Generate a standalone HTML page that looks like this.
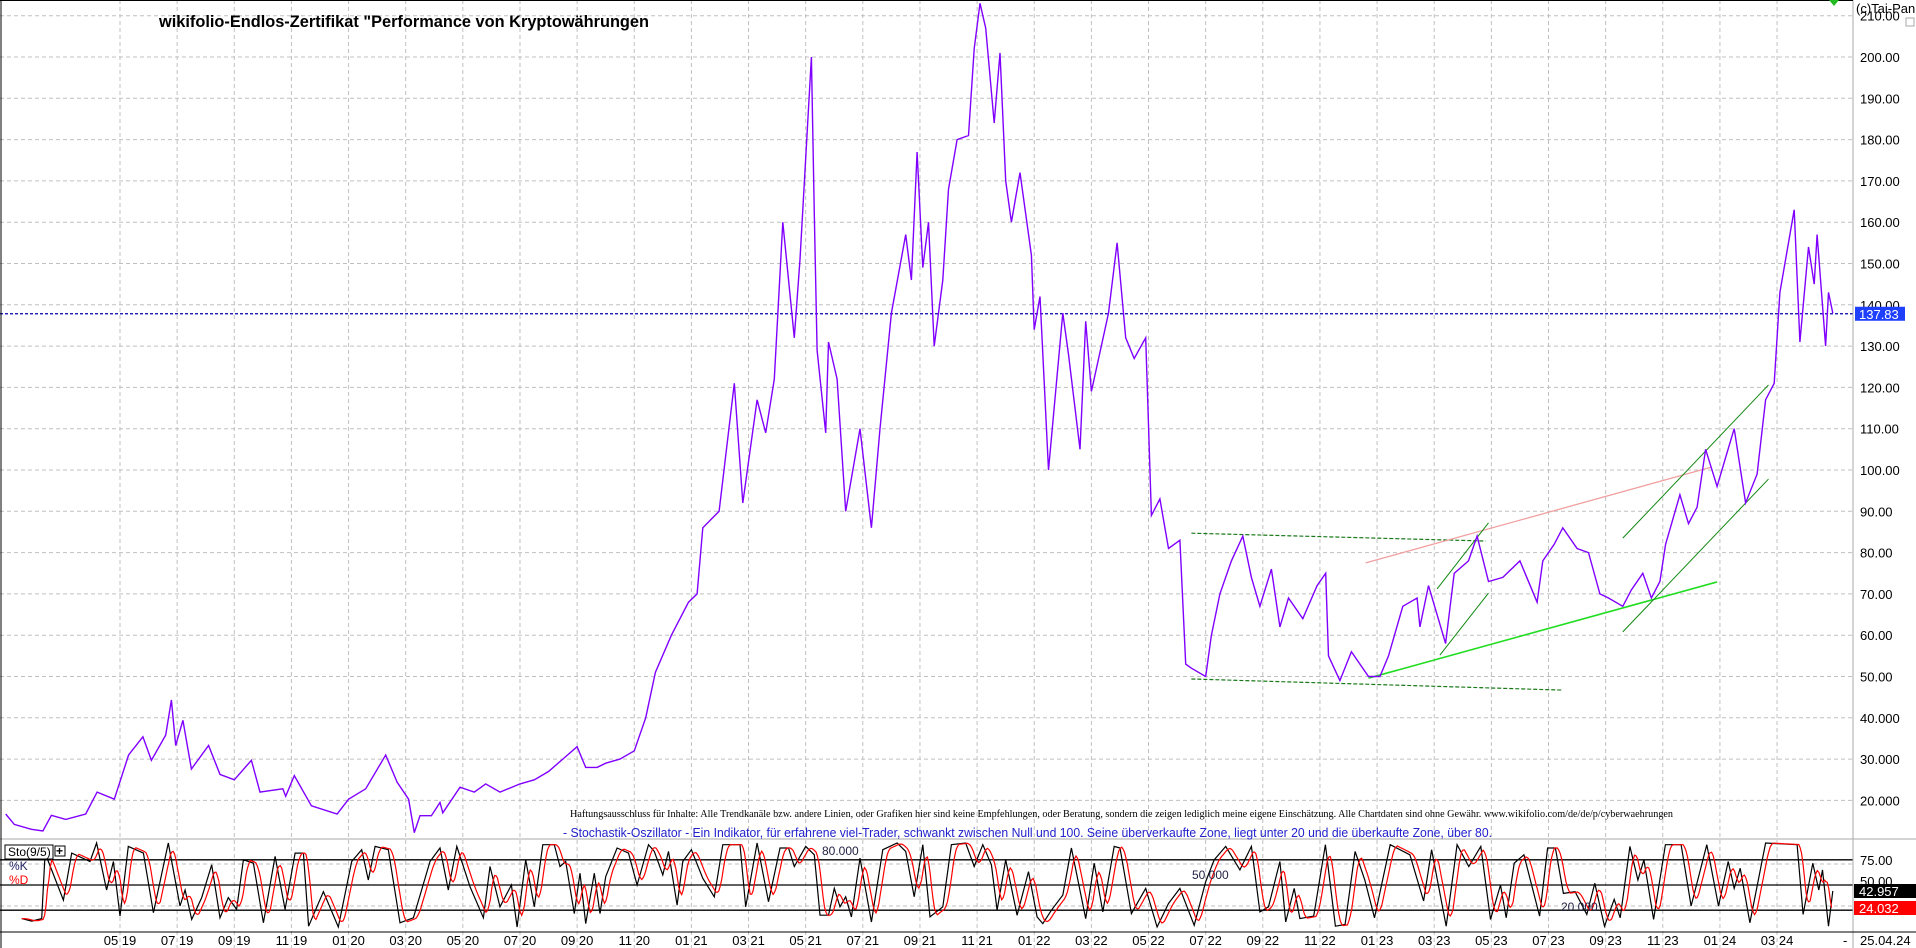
<!DOCTYPE html>
<html><head><meta charset="utf-8"><style>
html,body{margin:0;padding:0;background:#fff;}
svg{display:block;font-family:"Liberation Sans",sans-serif;}
</style></head>
<body>
<svg id="chart" width="1916" height="948" viewBox="0 0 1916 948" xmlns="http://www.w3.org/2000/svg">
  <rect x="0" y="0" width="1916" height="948" fill="#fff"/>
  <g id="grid"></g>
  <g id="trend"></g>
  <g id="series"></g>
  <g id="sto"></g>
  <g id="axes"></g>
  <text x="159" y="27" font-size="17" font-weight="bold" textLength="490" lengthAdjust="spacingAndGlyphs">wikifolio-Endlos-Zertifikat "Performance von Kryptowährungen</text>
  <text x="570" y="817" font-family="Liberation Serif, serif" font-size="11" textLength="1103" lengthAdjust="spacingAndGlyphs">Haftungsausschluss für Inhalte: Alle Trendkanäle bzw. andere Linien, oder Grafiken hier sind keine Empfehlungen, oder Beratung, sondern die zeigen lediglich meine eigene Einschätzung. Alle Chartdaten sind ohne Gewähr.  www.wikifolio.com/de/de/p/cyberwaehrungen</text>
  <text x="563" y="837" font-size="13" fill="#2222cc" textLength="929" lengthAdjust="spacingAndGlyphs">- Stochastik-Oszillator - Ein Indikator, für erfahrene viel-Trader, schwankt zwischen Null und 100. Seine überverkaufte Zone, liegt unter 20 und die überkaufte Zone, über 80.</text>
  <text x="1856" y="13" font-size="13">(c)Tai-Pan</text>
  <path d="M1829,0 L1839,0 L1834,6 Z" fill="#22bb22"/>
  <rect x="1906" y="18" width="8" height="8" fill="none" stroke="#aaa"/>
</svg>
<script>
// ---- price data (months since Jan 2019, value) ----
const priceMonths = [0,0.3,0.9,1.3,1.6,2.1,2.8,3.2,3.8,4.3,4.8,5.1,5.6,5.8,5.95,6.2,6.5,7.1,7.5,8.0,8.6,8.9,9.7,9.8,10.1,10.7,11.6,12.0,12.6,13.3,13.7,14.1,14.3,14.5,14.9,15.2,15.3,15.9,16.4,16.8,17.3,18,18.5,19,19.5,20,20.3,20.7,21,21.5,22,22.4,22.74,23.3,23.9,24.2,24.4,24.97,25.5,25.8,26.3,26.6,26.9,27.2,27.6,27.8,28.2,28.3,28.4,28.7,28.8,29.1,29.4,29.9,30.3,30.6,31.0,31.5,31.7,31.9,32.1,32.3,32.5,32.8,33.0,33.3,33.7,33.9,34.1,34.3,34.6,34.8,35.0,35.2,35.5,35.9,36.0,36.2,36.5,37.0,37.2,37.6,37.8,38.0,38.6,38.9,39.2,39.5,39.9,40.1,40.4,40.7,41.1,41.3,41.5,42.0,42.2,42.5,42.9,43.3,43.6,43.9,44.3,44.6,44.9,45.4,45.9,46.2,46.3,46.7,47.1,47.7,48.1,48.4,48.9,49.4,49.5,49.8,50.4,50.7,51.2,51.5,51.9,52.4,53.0,53.6,53.8,54.2,54.5,55.0,55.4,55.8,56.1,56.6,56.9,57.3,57.6,57.9,58.1,58.6,58.9,59.2,59.5,59.9,60.2,60.5,60.9,61.3,61.6,61.9,62.1,62.6,62.8,63.1,63.3,63.4,63.7,63.8,63.95];
const priceValues = [16.7,14.2,13,12.6,16.4,15.4,16.7,22,20.3,31,35.4,29.7,35.8,44.3,33.3,39.4,27.6,33.3,26.3,25,29.7,22,22.8,21,26,18.7,16.7,20.3,22.8,31,24.4,20.3,12.2,16.3,16.3,19.5,17,23.2,22,24,22,24,25,27,30,33,28,28,29,30,32,40,51,60,68,70,86,90,121,92,117,109,122,160,132,151,200,162,129,109,131,122,90,110,86,110,138,157,146,177,149,160,130,146,168,180,181,202,213,207,184,201,170,160,172,152,134,142,100,138,128,105,136,119,138,155,132,127,132,89,93,81,83,53,52,50,60,70,78,84,74,67,76,62,69,64,72,75,55,49,56,50,50,55,67,69,62,72,58,75,78,84,73,74,78,68,78,82,86,81,80,70,69,67,71,75,69,73,82,94,87,91,105,96,103,110,92,99,117,121,143,163,131,154,145,157,130,143,138];
const lastPrice = 137.83;
const priceTicks = [20,30,40,50,60,70,80,90,100,110,120,130,140,150,160,170,180,190,200,210];
const monthTicks = [4,6,8,10,12,14,16,18,20,22,24,26,28,30,32,34,36,38,40,42,44,46,48,50,52,54,56,58,60,62];
const monthLabels = ["05 19","07 19","09 19","11 19","01 20","03 20","05 20","07 20","09 20","11 20","01 21","03 21","05 21","07 21","09 21","11 21","01 22","03 22","05 22","07 22","09 22","11 22","01 23","03 23","05 23","07 23","09 23","11 23","01 24","03 24"];
// trend lines: [m1, v1, m2, v2]
const trendDashed = [[41.5,84.7,51.8,82.8],[41.5,49.4,54.5,46.7]];
const trendRed = [[47.6,77.5,59.7,100.7]];
const trendGreen = [[47.7,49.6,59.9,72.9]];
const trendChannel = [[50.1,71.2,51.9,87.2],[50.2,55.2,51.9,70.2],[56.6,83.5,61.7,120.6],[56.6,60.8,61.7,97.8]];
// stochastic %K (month, value)
const kMonths = [0.56,0.91,1.26,1.38,2.02,2.31,2.95,3.18,3.53,3.77,4.0,4.29,4.82,5.17,5.69,6.1,6.28,6.51,6.86,7.21,7.5,7.79,8.08,8.32,8.67,9.02,9.43,9.78,10.13,10.42,10.6,11.12,11.64,12.11,12.46,12.69,12.93,13.39,13.8,14.27,14.85,15.2,15.49,15.79,16.25,16.72,16.95,17.3,17.7,17.9,18.2,18.5,18.8,19.2,19.4,19.6,19.9,20.1,20.3,20.6,20.8,21.0,21.4,21.8,22.1,22.5,22.7,23.0,23.2,23.5,23.7,24.0,24.4,24.8,25.1,25.7,25.9,26.3,26.7,27.1,27.4,27.6,28.0,28.3,28.5,28.8,29.0,29.2,29.4,29.6,29.9,30.3,30.7,31.2,31.5,31.8,32.1,32.35,32.8,33.1,33.6,33.9,34.2,34.5,34.7,35.0,35.4,35.8,36.1,36.3,36.6,37.0,37.3,37.8,38.1,38.4,38.8,39.0,39.4,39.9,40.3,40.7,41.1,41.6,42.0,42.3,42.7,43.2,43.6,43.9,44.2,44.6,44.8,45.1,45.3,45.78,46.19,46.54,46.88,47.23,47.57,47.91,48.46,49.15,49.63,49.91,50.42,50.8,51.21,51.63,51.97,52.32,52.52,52.8,53.14,53.69,53.97,54.24,54.52,54.93,55.34,55.62,55.96,56.3,56.51,56.85,57.13,57.34,57.68,58.09,58.64,58.99,59.54,59.95,60.29,60.5,60.71,61.05,61.6,62.7,62.91,63.25,63.46,63.59,63.8,63.95];
const kValues = [10,7,10,88,32,88,78,100,44,78,13,96,88,17,100,25,44,9,35,74,11,35,21,80,76,5,84,21,88,88,1,42,0,78,92,56,96,92,5,11,78,94,44,96,48,11,72,24,50,0,80,24,98,98,72,78,16,64,4,64,16,60,94,88,50,98,90,62,90,26,78,92,58,36,98,98,24,100,30,94,94,72,96,86,14,14,46,24,36,12,82,6,92,100,90,36,98,12,24,98,100,72,98,74,20,80,14,66,12,4,20,38,94,10,76,18,96,94,16,46,0,28,46,2,54,80,96,68,96,18,24,78,6,46,10,13,98,1,3,90,56,11,98,86,31,92,1,98,72,96,9,50,11,76,86,13,94,94,40,42,15,52,1,33,11,96,56,80,9,98,98,25,98,25,78,46,70,5,100,98,15,76,44,68,1,42.957];
const lastK = 42.957, lastD = 24.032;
const stoLevels = [20,50,80];

const NS = "http://www.w3.org/2000/svg";
function X(m){ return 120 + (m - 4) * 28.57; }
function Y(v){ return 57 + (200 - v) * 4.13; }
function SY(v){ return 927 - v * 0.84; }
function mk(tag, attrs, parent){ const e=document.createElementNS(NS,tag); for(const k in attrs) e.setAttribute(k,attrs[k]); parent.appendChild(e); return e; }

const grid=document.getElementById('grid'), trend=document.getElementById('trend'), series=document.getElementById('series'), sto=document.getElementById('sto'), axes=document.getElementById('axes');

// horizontal grid + price labels
priceTicks.forEach(v=>{
  const l=mk('line',{x1:0,x2:1853,y1:Y(v),y2:Y(v),stroke:'#c0c0c0','stroke-dasharray':'4,3'},grid);
  
  
  const t=mk('text',{x:1860,y:Y(v)+5,'font-size':13},axes);
  t.textContent = v<50 ? v.toFixed(3) : v.toFixed(2);
  
  
});
// sto dashed grid
[25,75].forEach(v=>{
  const l=mk('line',{x1:0,x2:1853,y1:SY(v),y2:SY(v),stroke:'#c0c0c0','stroke-dasharray':'4,3'},grid);
  
  
});
// vertical grid + month labels
monthTicks.forEach((m,i)=>{
  const l=mk('line',{x1:X(m),x2:X(m),y1:0,y2:948,stroke:'#c0c0c0','stroke-dasharray':'4,3'},grid);
  
  
  const t=mk('text',{x:X(m),y:945,'font-size':13,'text-anchor':'middle'},axes);
  t.textContent=monthLabels[i];
  
  
});

// trend lines
function seg(arr,color,dash,w,name){
  arr.forEach(s=>{
    const a={x1:X(s[0]),y1:Y(s[1]),x2:X(s[2]),y2:Y(s[3]),stroke:color,'stroke-width':w};
    if(dash) a['stroke-dasharray']=dash;
    const l=mk('line',a,trend);
    
    
  });
}
seg(trendDashed,'#1a7a1a','4,2',1.2,'support-resistance-dashed');
seg(trendRed,'#f0a0a0',null,1.3,'red-trendline');
seg(trendGreen,'#22dd22',null,1.6,'green-trendline');
seg(trendChannel,'#118811',null,1,'trend-channel-line');

// last price dashed line
const lp=mk('line',{x1:0,x2:1853,y1:Y(lastPrice),y2:Y(lastPrice),stroke:'#0000aa','stroke-dasharray':'3,2','stroke-width':1.2},series);



// price line
const pp=mk('polyline',{points:priceMonths.map((m,i)=>X(m).toFixed(1)+','+Y(priceValues[i]).toFixed(1)).join(' '),fill:'none',stroke:'#8000ff','stroke-width':1.4,'stroke-linejoin':'miter'},series);



// last price label
const lb=mk('rect',{x:1855,y:Y(lastPrice)-7,width:50,height:14,fill:'#1f3fff'},axes);


const lt=mk('text',{x:1859,y:Y(lastPrice)+5,'font-size':13,fill:'#fff'},axes);
lt.textContent=lastPrice.toFixed(2);



// sto panel separators
const sep=mk('line',{x1:0,x2:1916,y1:839,y2:839,stroke:'#aaa'},sto);


stoLevels.forEach(v=>{
  const l=mk('line',{x1:0,x2:1853,y1:SY(v),y2:SY(v),stroke:'#000','stroke-width':1.3},sto);
  
  
});
// %D from K (3-sample lagged average)
function kAt(m){
  if(m<=kMonths[0]) return kValues[0];
  for(let i=1;i<kMonths.length;i++){ if(m<=kMonths[i]){ const t=(m-kMonths[i-1])/(kMonths[i]-kMonths[i-1]); return kValues[i-1]+t*(kValues[i]-kValues[i-1]); } }
  return kValues[kValues.length-1];
}
const dPts=[];
for(let m=kMonths[0]; m<=kMonths[kMonths.length-1]+0.001; m+=0.05){
  const d=(kAt(m-0.08)+kAt(m-0.16)+kAt(m-0.24))/3;
  dPts.push(X(m).toFixed(1)+','+SY(d).toFixed(1));
}
const kl=mk('polyline',{points:kMonths.map((m,i)=>X(m).toFixed(1)+','+SY(kValues[i]).toFixed(1)).join(' '),fill:'none',stroke:'#000','stroke-width':1.2},sto);


const dl=mk('polyline',{points:dPts.join(' '),fill:'none',stroke:'#ff0000','stroke-width':1.2},sto);



// level labels inside panel
[[822,855,'80.000'],[1192,879,'50.000'],[1561,911,'20.000']].forEach(a=>{
  const t=mk('text',{x:a[0],y:a[1],'font-size':12,fill:'#222244'},sto);
  t.textContent=a[2];
  
  
});
// sto legend
const sb=mk('rect',{x:5,y:845,width:48,height:14,fill:'#fff',stroke:'#000'},sto);


const st=mk('text',{x:8,y:856,'font-size':12},sto);
st.textContent='Sto(9/5)';


const pb=mk('rect',{x:55,y:846,width:10,height:10,fill:'#fff',stroke:'#000'},sto);


const pt=mk('text',{x:56,y:855,'font-size':12,'font-weight':'bold'},sto);
pt.textContent='+';


const kt=mk('text',{x:9,y:870,'font-size':12,fill:'#222266'},sto);
kt.textContent='%K';


const dt=mk('text',{x:9,y:884,'font-size':12,fill:'#ff0000'},sto);
dt.textContent='%D';



// sto right labels
[[75,'75.00'],[50,'50.00']].forEach(a=>{
  const t=mk('text',{x:1860,y:SY(a[0])+1,'font-size':13},axes);
  t.textContent=a[1];
  
  
});
const kb=mk('rect',{x:1854,y:884,width:62,height:14,fill:'#000'},axes);


const kv=mk('text',{x:1859,y:896,'font-size':13,fill:'#fff'},axes);
kv.textContent=lastK.toFixed(3);


const db=mk('rect',{x:1854,y:901,width:62,height:14,fill:'#ff0000'},axes);


const dv=mk('text',{x:1859,y:913,'font-size':13,fill:'#fff'},axes);
dv.textContent=lastD.toFixed(3);



// axis frame
const ax=mk('line',{x1:1853,x2:1853,y1:0,y2:948,stroke:'#aaa'},axes);


const bx=mk('line',{x1:0,x2:1916,y1:932,y2:932,stroke:'#000'},axes);


const tx=mk('line',{x1:0,x2:1853,y1:0.5,y2:0.5,stroke:'#000'},axes);


const lx=mk('line',{x1:1,x2:1,y1:0,y2:948,stroke:'#000'},axes);


const dateT=mk('text',{x:1860,y:945,'font-size':13},axes);
dateT.textContent='25.04.24';


const dash=mk('text',{x:1843,y:945,'font-size':13},axes);
dash.textContent='-';


</script>
</body></html>
